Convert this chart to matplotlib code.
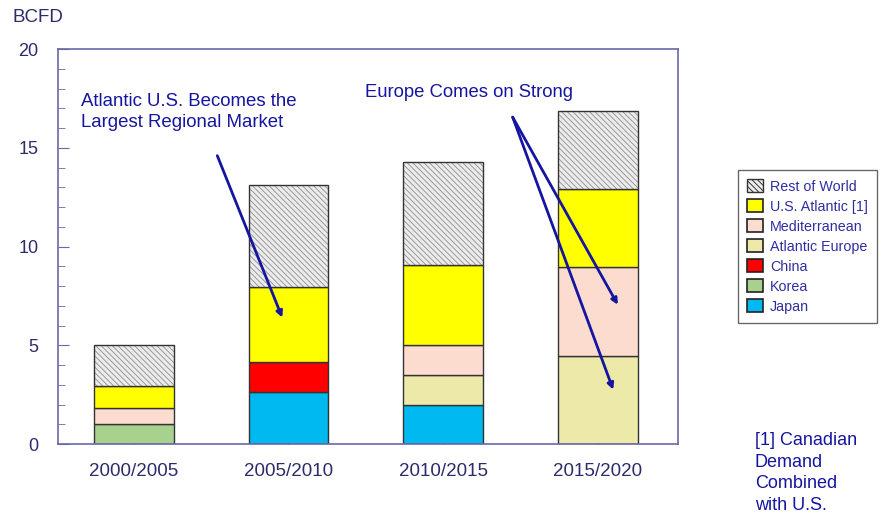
import matplotlib.pyplot as plt
import numpy as np
from matplotlib.patches import Patch
from matplotlib.ticker import MultipleLocator

plt.rcParams["font.family"] = ["Liberation Sans", "DejaVu Sans"]

periods = ["2000/2005", "2005/2010", "2010/2015", "2015/2020"]
japan = [0.0, 2.65, 2.0, 0.0]
korea = [1.0, 0.0, 0.0, 0.0]
china = [0.0, 1.5, 0.0, 0.0]
atlantic_europe = [0.0, 0.0, 1.5, 4.45]
mediterranean = [0.8, 0.0, 1.5, 4.5]
us_atlantic = [1.15, 3.8, 4.05, 3.95]
rest_of_world = [2.05, 5.15, 5.25, 3.95]

navy = "#1515a0"
axis_col = "#6868a8"
label_col = "#2c2c6c"
legend_col = "#2e2ea0"

layers = [
    ("Japan", japan, "#00b9f0"),
    ("Korea", korea, "#a8d18e"),
    ("China", china, "#ff0000"),
    ("Atlantic Europe", atlantic_europe, "#ede9a8"),
    ("Mediterranean", mediterranean, "#fcdccf"),
    ("U.S. Atlantic [1]", us_atlantic, "#ffff00"),
]
colors = {name: col for name, vals, col in layers}

fig = plt.figure(figsize=(8.83, 5.16), dpi=100)
ax = fig.add_axes([0.0657, 0.1395, 0.7023, 0.7655])

x = np.arange(len(periods))
w = 0.516
bottom = np.zeros(len(periods))
for name, vals, col in layers:
    vals = np.array(vals)
    mask = vals > 0
    ax.bar(x[mask], vals[mask], w, bottom=bottom[mask], color=col,
           edgecolor="#333333", linewidth=1.0, zorder=2)
    bottom += vals

# hatched top segment, outline drawn separately so the hatch stays grey
rest = np.array(rest_of_world)
hatch = "\\\\\\\\\\\\"
plt.rcParams["hatch.linewidth"] = 0.7
ax.bar(x, rest, w, bottom=bottom, color="#ececec", edgecolor="#9a9a9a",
       hatch=hatch, linewidth=0, zorder=2)
ax.bar(x, rest, w, bottom=bottom, fill=False, edgecolor="#333333",
       linewidth=1.0, zorder=3)

ax.set_xlim(-0.49, 3.52)
ax.set_ylim(0, 20)
ax.set_xticks(x)
ax.set_xticklabels(periods, fontsize=13.5, color=label_col)
ax.yaxis.set_major_locator(MultipleLocator(5))
ax.yaxis.set_minor_locator(MultipleLocator(1))
ax.tick_params(axis="y", which="major", direction="in", length=8,
               color=axis_col, labelsize=13, labelcolor=label_col, pad=14)
ax.tick_params(axis="y", which="minor", direction="in", length=5, color=axis_col)
ax.tick_params(axis="x", direction="in", length=10, color="#555555", pad=14)
for s in ax.spines.values():
    s.set_color(axis_col)
    s.set_linewidth(1.2)

fig.text(13 / 883, 1 - 17 / 516, "BCFD", fontsize=13.5, color=label_col,
         va="center", ha="left")

ax.text(-0.34, 17.75, "Atlantic U.S. Becomes the\nLargest Regional Market",
        fontsize=13.4, color=navy, va="top", ha="left", linespacing=1.3,
        zorder=5)
ax.annotate("", xy=(0.96, 6.4), xytext=(0.54, 14.6),
            arrowprops=dict(arrowstyle="-|>", color=navy, lw=2,
                            mutation_scale=9, shrinkA=0, shrinkB=0), zorder=5)

ax.text(1.495, 17.8, "Europe Comes on Strong", fontsize=13.3, color=navy,
        va="center", ha="left", zorder=5)
for tip in [(3.13, 7.05), (3.10, 2.75)]:
    ax.annotate("", xy=tip, xytext=(2.45, 16.55),
                arrowprops=dict(arrowstyle="-|>", color=navy, lw=2,
                                mutation_scale=9, shrinkA=0, shrinkB=0),
                zorder=5)

order = ["U.S. Atlantic [1]", "Mediterranean", "Atlantic Europe",
         "China", "Korea", "Japan"]
handles = [Patch(facecolor="#ececec", edgecolor="#333333", hatch=hatch,
                 label="Rest of World")]
handles += [Patch(facecolor=colors[n], edgecolor="#222222", linewidth=1.2,
                  label=n) for n in order]
leg = fig.legend(handles=handles, loc="upper left",
                 bbox_to_anchor=(738 / 883, 1 - 170 / 516), borderaxespad=0,
                 fontsize=10.3, frameon=True, fancybox=False,
                 edgecolor="#444444", handlelength=1.1, handleheight=1.0,
                 handletextpad=0.5, labelspacing=0.4, borderpad=0.65,
                 labelcolor=legend_col)
leg.get_frame().set_linewidth(1.0)

fig.text(755 / 883, 1 - 432 / 516, "[1] Canadian\nDemand\nCombined\nwith U.S.",
         fontsize=13, color=navy, va="top", ha="left", linespacing=1.35)

fig.savefig("out.png", dpi=100)
